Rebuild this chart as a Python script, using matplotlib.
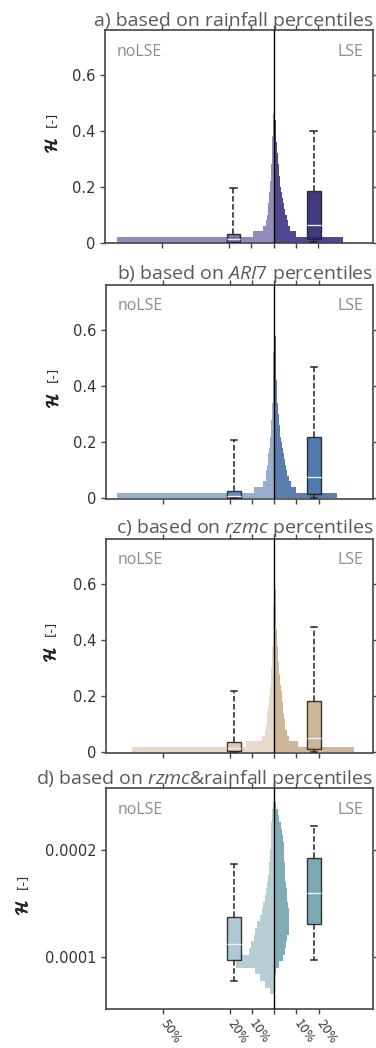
import numpy as np
import matplotlib
matplotlib.use("Agg")
import matplotlib.pyplot as plt
import matplotlib.patheffects as pe

plt.rcParams['mathtext.fontset'] = 'custom'
plt.rcParams['mathtext.rm'] = 'Open Sans'
plt.rcParams['mathtext.it'] = 'Open Sans:italic'

# histogram bin setup (H values)
ab_binw = 0.02
d_bin0 = 6.5e-5
d_binw = 6.2e-6

# percent of events per bin, noLSE (left) and LSE (right)
a_left = [70, 9.1, 4.7, 3.6, 3.0, 2.7, 2.4, 2.1, 1.9, 1.7, 1.5, 1.35, 1.2, 1.05,
          0.9, 0.8, 0.7, 0.6, 0.55, 0.5, 0.45, 0.4, 0.35, 0, 0, 0, 0]
a_right = [31, 10, 7.5, 6.5, 5.8, 5.0, 4.5, 4.0, 3.6, 3.3, 3.0, 2.7, 2.5, 2.3,
           2.1, 1.8, 1.6, 1.4, 1.25, 1.1, 1.0, 0.9, 0.8, 0.75, 0.7, 0.6, 0.55]
b_left = [70.5, 9.0, 4.8, 3.8, 3.5, 3.3, 2.9, 2.6, 2.3, 2.0, 1.8, 1.6, 1.4, 1.2,
          1.0, 0.9, 0.8, 0.7, 0.65, 0.6, 0.55, 0.5, 0.45, 0.4, 0.35, 0.3,
          0.25, 0.2, 0, 0, 0]
b_right = [28.4, 10, 7.5, 6.6, 6.0, 5.4, 4.8, 4.3, 3.8, 3.4, 3.1, 2.8, 2.5, 2.3,
           2.1, 1.9, 1.7, 1.5, 1.35, 1.2, 1.1, 1.0, 0.95, 0.9, 0.85, 0.8, 0.75,
           0.7, 0.65, 0.6, 0.55]
c_left = [64, 12.6, 5.6, 4.2, 3.8, 3.4, 3.0, 2.7, 2.4, 2.2, 2.0, 1.8, 1.6, 1.4,
          1.2, 1.1, 1.0, 0.9, 0.8, 0.7, 0.6, 0.5, 0.45, 0.4, 0.35, 0.3, 0.25,
          0.2, 0, 0]
c_right = [36, 10.7, 6.7, 5.6, 5.1, 4.7, 4.3, 4.0, 3.8, 3.6, 3.4, 3.1, 2.8, 2.5,
           2.3, 2.1, 1.9, 1.7, 1.55, 1.4, 1.3, 1.15, 1.05, 0.95, 0.9, 0.85,
           0.8, 0.7, 0.65, 0.6]
d_left = [1.8, 4.3, 6.3, 8.8, 17, 17, 11.4, 10.5, 9.1, 8.8, 7.7, 6.5, 5.5, 4.8,
          4.2, 3.7, 3.3, 2.9, 2.5, 2.2, 2.0, 1.8, 1.6, 1.5, 1.3, 1.2, 1.0,
          0.8, 0.5]
d_right = [0, 0, 0, 1.0, 2.4, 3.9, 4.8, 5.4, 6.0, 6.5, 6.8, 6.8, 6.5, 6.2, 6.0,
           5.6, 5.3, 5.0, 4.9, 4.8, 4.6, 4.4, 4.3, 4.2, 3.6, 3.0, 2.2, 1.6, 1.0]

# box statistics: (whislo, q1, med, q3, whishi)
a_box_no = (0.0, 0.002, 0.012, 0.031, 0.194)
a_box_yes = (0.003, 0.012, 0.062, 0.185, 0.40)
b_box_no = (0.0, 0.001, 0.007, 0.026, 0.206)
b_box_yes = (0.002, 0.014, 0.076, 0.218, 0.468)
c_box_no = (0.001, 0.006, 0.015, 0.037, 0.217)
c_box_yes = (0.001, 0.012, 0.051, 0.182, 0.446)
d_box_no = (7.75e-5, 9.75e-5, 1.116e-4, 1.375e-4, 1.866e-4)
d_box_yes = (9.75e-5, 1.306e-4, 1.60e-4, 1.928e-4, 2.228e-4)

titles = ["a) based on rainfall percentiles",
          "b) based on $ARI7$ percentiles",
          "c) based on $rzmc$ percentiles",
          "d) based on $rzmc$&rainfall percentiles"]

xticks = [-50, -20, -10, 0, 10, 20]
xticklabels = ['50%', '20%', '10%', '', '10%', '20%']

# colours: left hist, right hist, left box, right box
colours = [('#8c86ba', '#463e8a', '#6f69a8', '#2c2470'),
           ('#93aacd', '#4f76aa', '#5f86bb', '#3d6aa3'),
           ('#e6d8c5', '#cdb290', '#dcc6a9', '#c9ad8a'),
           ('#b2cdd3', '#7aa7b3', '#a5c4cc', '#6d9fab')]

panels = [
    (a_left, a_right, 0.0, ab_binw, a_box_no, a_box_yes),
    (b_left, b_right, 0.0, ab_binw, b_box_no, b_box_yes),
    (c_left, c_right, 0.0, ab_binw, c_box_no, c_box_yes),
    (d_left, d_right, d_bin0, d_binw, d_box_no, d_box_yes),
]

positions = [[0.279, 0.768, 0.713, 0.203],
             [0.282, 0.524, 0.710, 0.204],
             [0.282, 0.2815, 0.710, 0.2045],
             [0.282, 0.037, 0.710, 0.211]]
label_x = [-0.2, -0.2, -0.21, -0.315]

fig = plt.figure(figsize=(3.76, 10.48), dpi=100)
edgec = '#444444'

for i, (left, right, b0, bw, bno, byes) in enumerate(panels):
    ax = fig.add_axes(positions[i])
    cl, cr, cbl, cbr = colours[i]
    edges = b0 + bw * np.arange(len(left) + 1)
    ax.stairs(-np.array(left), edges, orientation='horizontal', fill=True,
              color=cl, lw=0, alpha=0.95, zorder=2)
    ax.stairs(np.array(right), edges, orientation='horizontal', fill=True,
              color=cr, lw=0, alpha=0.95, zorder=2)
    ax.axvline(0, color='black', lw=1, zorder=4)

    for pos, st, fc in [(-18, bno, cbl), (18, byes, cbr)]:
        stats = [dict(whislo=st[0], q1=st[1], med=st[2], q3=st[3], whishi=st[4])]
        ax.bxp(stats, positions=[pos], widths=6, capwidths=3, patch_artist=True,
               showfliers=False, manage_ticks=False,
               boxprops=dict(facecolor=fc, edgecolor='#222222', lw=1, alpha=0.9),
               whiskerprops=dict(color='#222222', lw=1.1, ls='--'),
               capprops=dict(color='#222222', lw=1.1),
               medianprops=dict(color='#eeeeee', lw=1),
               zorder=3)

    ax.set_xlim(-75.6, 44.5)
    if i < 3:
        ax.set_ylim(-0.002, 0.76)
        ax.set_yticks([0, 0.2, 0.4, 0.6])
        ax.set_yticklabels(['0', '0.2', '0.4', '0.6'])
    else:
        ax.set_ylim(5.1e-5, 2.58e-4)
        ax.set_yticks([1e-4, 2e-4])
        ax.set_yticklabels(['0.0001', '0.0002'])

    ax.set_xticks(xticks)
    if i == 3:
        ax.set_xticklabels(xticklabels, rotation=-55, ha='left', va='center',
                           rotation_mode='anchor', fontsize=8.5,
                           color='#333333')
    else:
        ax.set_xticklabels([])

    ax.tick_params(axis='both', direction='out', length=3.5, width=1,
                   color=edgec, top=True, right=True, labelsize=10.5,
                   labelcolor='#333333')
    ax.tick_params(axis='x', labelsize=8.5, pad=5)
    for sp in ax.spines.values():
        sp.set_color(edgec)
        sp.set_linewidth(1.2)

    # y label: bold calligraphic H plus a plain unit
    ax.text(label_x[i], 0.46, r'$\mathcal{H}$', transform=ax.transAxes,
            rotation=90, ha='center', va='center', fontsize=11.5,
            color='#222222', math_fontfamily='cm',
            path_effects=[pe.withStroke(linewidth=0.8, foreground='#222222')])
    ax.text(label_x[i], 0.58, '[-]', transform=ax.transAxes, rotation=90,
            ha='center', va='center', fontsize=9.5, color='#333333')

    ax.set_title(titles[i], loc='right', fontsize=14, color='#595959',
                 family='Open Sans', pad=3)
    ax.text(0.045, 0.9, 'noLSE', transform=ax.transAxes, fontsize=11.5,
            color='#8c8c8c', family='Open Sans', ha='left', va='center')
    ax.text(0.963, 0.9, 'LSE', transform=ax.transAxes, fontsize=11.5,
            color='#8c8c8c', family='Open Sans', ha='right', va='center')

fig.savefig('out.png', dpi=100)
